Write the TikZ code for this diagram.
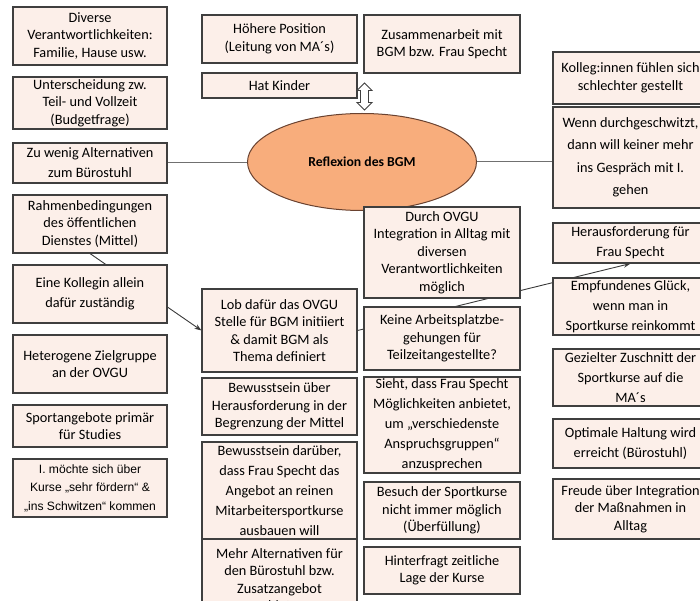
\documentclass[tikz,border=0pt]{standalone}
\usepackage{fontspec}
\setmainfont{Carlito}
\newfontfamily\arialfont{Liberation Sans}
\usetikzlibrary{shapes.geometric,shapes.arrows,arrows.meta,backgrounds}

\definecolor{boxfill}{HTML}{FCEFE9}
\definecolor{boxline}{HTML}{3F3F3F}
\definecolor{ellfill}{HTML}{F8AD7C}
\definecolor{ellline}{HTML}{6A4230}
\definecolor{linkgray}{HTML}{707070}
\definecolor{linkdark}{HTML}{3A3A3A}

\tikzset{
  card/.style={draw=boxline, fill=boxfill, line width=1.1pt, inner sep=0pt,
    align=center, font=\fontsize{14.3}{17.5}\selectfont},
  wide20/.style={font=\fontsize{14.3}{20}\selectfont},
  wide22/.style={font=\fontsize{14.3}{22.5}\selectfont},
  colA/.style={card, minimum width=154pt},
  colB/.style={card, minimum width=155pt},
  colC/.style={card, minimum width=156pt},
  colD/.style={card, minimum width=155pt},
  hub/.style={ellipse, draw=ellline, fill=ellfill, line width=1pt, inner sep=0pt,
    minimum width=229pt, minimum height=97pt,
    font=\fontsize{13.7}{16}\selectfont\bfseries},
  link/.style={draw=linkgray, line width=1pt},
  darklink/.style={draw=linkdark, line width=0.9pt},
  tip/.style={-{Stealth[length=7pt,width=5pt]}},
  dblarrow/.style={double arrow, draw=boxline, fill=white, line width=0.9pt,
    rotate=90, minimum height=27pt, minimum width=15pt, inner sep=3.5pt,
    double arrow head extend=3.5pt}
}

\begin{document}
\begin{tikzpicture}[x=1pt,y=-1pt]
\useasboundingbox (0,0) rectangle (700,601);
\clip (0,0) rectangle (700,601);

% central topic
\node[hub] (ell) at (362,162) {Reflexion des BGM};

% left column
\node[colA, minimum height=58pt] (L1) at (90,36) {Diverse\\Verantwortlichkeiten:\\Familie, Hause usw.};
\node[colA, minimum height=52pt] (L2) at (90,103) {Unterscheidung zw.\\Teil- und Vollzeit\\(Budgetfrage)};
\node[colA, minimum height=40pt, wide20] (L3) at (90,163) {Zu wenig Alternativen\\zum Bürostuhl};
\node[colA, minimum height=58pt] (L4) at (90,224) {Rahmenbedingungen\\des öffentlichen\\Dienstes (Mittel)};
\node[colA, minimum height=58pt, wide20] (L5) at (90,294) {Eine Kollegin allein\\dafür zuständig};
\node[colA, minimum height=58pt] (L6) at (90,364) {Heterogene Zielgruppe\\an der OVGU};
\node[colA, minimum height=42pt] (L7) at (90,426) {Sportangebote primär\\für Studies};
\node[colA, minimum height=58pt, font=\arialfont\fontsize{12.1}{18.5}\selectfont] (L8) at (90,488)
  {I. möchte sich über\\Kurse „sehr fördern“ \&\\„ins Schwitzen“ kommen};

% inner left column
\node[colB, minimum height=48pt] (M1) at (279.5,39) {Höhere Position\\(Leitung von MA´s)};
\node[colB, minimum height=25pt] (M2) at (279.5,85.5) {Hat Kinder};
\node[colB, minimum height=83pt] (M3) at (279.5,330.5) {Lob dafür das OVGU\\Stelle für BGM initiiert\\\& damit BGM als\\Thema definiert};
\node[colB, minimum height=57pt] (M4) at (279.5,406.5) {Bewusstsein über\\Herausforderung in der\\Begrenzung der Mittel};
\node[colB, minimum height=97pt, wide20] (M5) at (279.5,490.5) {Bewusstsein darüber,\\dass Frau Specht das\\Angebot an reinen\\Mitarbeitersportkurse\\ausbauen will};
\node[colB, minimum height=81pt] (M6) at (279.5,579.5) {Mehr Alternativen für\\den Bürostuhl bzw.\\Zusatzangebot\\anbieten};

% inner right column
\node[colC, minimum height=58pt] (R1) at (442,44) {Zusammenarbeit mit\\BGM bzw. Frau Specht};
\node[colC, minimum height=91pt] (R2) at (442,252.5) {Durch OVGU\\Integration in Alltag mit\\diversen\\Verantwortlichkeiten\\möglich};
\node[colC, minimum height=63pt] (R3) at (442,338.5) {Keine Arbeitsplatzbe-\\gehungen für\\Teilzeitangestellte?};
\node[colC, minimum height=96pt, wide20] (R4) at (442,425) {Sieht, dass Frau Specht\\Möglichkeiten anbietet,\\um „verschiedenste\\Anspruchsgruppen“\\anzusprechen};
\node[colC, minimum height=57pt] (R5) at (442,510.5) {Besuch der Sportkurse\\nicht immer möglich\\(Überfüllung)};
\node[colC, minimum height=47pt] (R6) at (442,570.5) {Hinterfragt zeitliche\\Lage der Kurse};

% right column
\node[colD, minimum height=52pt] (F1) at (630.5,78) {Kolleg:innen fühlen sich\\schlechter gestellt};
\node[colD, minimum height=101pt, wide22] (F2) at (630.5,157.5) {Wenn durchgeschwitzt,\\dann will keiner mehr\\ins Gespräch mit I.\\gehen};
\node[colD, minimum height=40pt, wide20] (F3) at (630.5,243) {Herausforderung für\\Frau Specht};
\node[colD, minimum height=57pt, wide20] (F4) at (630.5,306.5) {Empfundenes Glück,\\wenn man in\\Sportkurse reinkommt};
\node[colD, minimum height=57pt, wide20] (F5) at (630.5,377.5) {Gezielter Zuschnitt der\\Sportkurse auf die\\MA´s};
\node[colD, minimum height=49pt, wide20] (F6) at (630.5,443.5) {Optimale Haltung wird\\erreicht (Bürostuhl)};
\node[colD, minimum height=60pt] (F7) at (630.5,509) {Freude über Integration\\der Maßnahmen in\\Alltag};

% two-headed arrow between "Hat Kinder" and the topic
\node[dblarrow] (dbl) at (364.5,96.5) {};

% connectors, drawn beneath the boxes
\begin{scope}[on background layer]
  \draw[link] (L3.east) -- (L3.east -| ell.west);
  \draw[link] (ell.east) -- (ell.east -| F2.west);
  \draw[darklink, tip] (L4.south) -- (M3.west);
  \draw[darklink, tip] (M3.east) -- (F3.south);
\end{scope}
\end{tikzpicture}
\end{document}
